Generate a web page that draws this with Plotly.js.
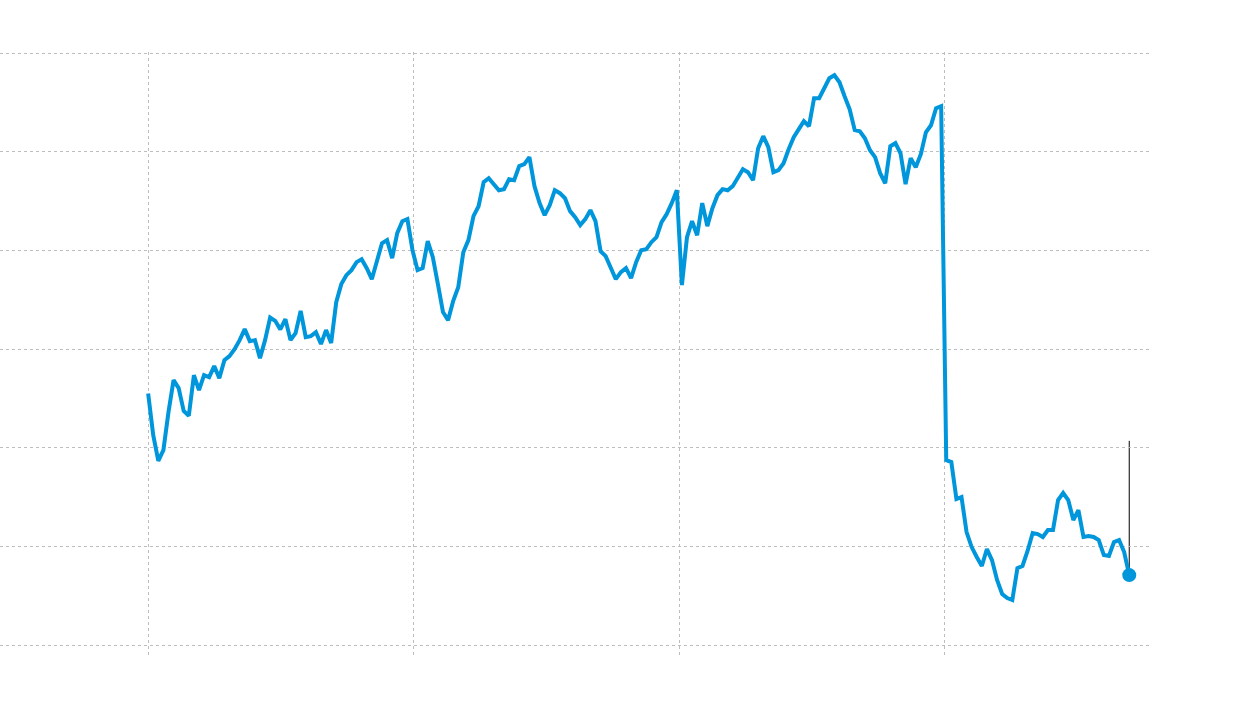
<!DOCTYPE html>
<html>
<head>
<meta charset="utf-8">
<script src="https://cdn.plot.ly/plotly-3.0.1.min.js"></script>
<style>
  html, body { margin: 0; padding: 0; background: #fff; }
  #chart { width: 1240px; height: 706px; }
</style>
</head>
<body>
<div id="chart"></div>
<script>
// Weekly series, first week starting 2019-01-01
const startDate = '2019-01-01';
const stepDays = 7;
const values = [
  25.51, 21.28, 18.68, 19.76, 23.61, 26.86, 26.05, 23.72, 23.24, 27.36,
  25.84, 27.36, 27.16, 28.28, 27.06, 28.88, 29.29, 30.00, 30.91, 32.03,
  30.81, 30.91, 29.09, 30.91, 33.21, 32.87, 32.00, 33.04, 30.91, 31.62,
  33.88, 31.22, 31.32, 31.72, 30.51, 31.93, 30.61, 34.76, 36.59, 37.50,
  38.01, 38.82, 39.12, 38.21, 37.09, 39.12, 40.74, 41.05, 39.22, 41.76,
  42.97, 43.18, 40.03, 38.01, 38.21, 40.95, 39.32, 36.59, 33.75, 32.94,
  34.86, 36.28, 39.83, 41.05, 43.48, 44.49, 46.92, 47.33, 46.72, 46.11,
  46.22, 47.23, 47.13, 48.55, 48.75, 49.46, 46.52, 44.80, 43.58, 44.59,
  46.11, 45.81, 45.30, 43.99, 43.38, 42.57, 43.18, 44.09, 42.97, 39.93,
  39.43, 38.21, 37.09, 37.80, 38.21, 37.20, 38.82, 40.03, 40.13, 40.84,
  41.35, 42.87, 43.68, 44.80, 46.11, 36.49, 41.35, 42.97, 41.55, 44.80,
  42.47, 44.29, 45.61, 46.22, 46.11, 46.52, 47.33, 48.24, 47.94, 47.13,
  50.37, 51.59, 50.47, 47.94, 48.14, 48.85, 50.27, 51.49, 52.30, 53.11,
  52.60, 55.44, 55.44, 56.55, 57.46, 57.77, 57.06, 55.64, 54.32, 52.20,
  52.09, 51.38, 50.17, 49.46, 47.84, 46.82, 50.57, 50.88, 49.86, 46.72,
  49.36, 48.45, 49.76, 51.99, 52.70, 54.43, 54.63, 18.75, 18.55, 14.80,
  15.00, 11.45, 9.93, 8.92, 8.01, 9.73, 8.61, 6.59, 5.17, 4.76,
  4.56, 7.80, 8.01, 9.53, 11.35, 11.25, 10.95, 11.66, 11.66, 14.70,
  15.41, 14.70, 12.67, 13.68, 10.95, 11.05, 10.95, 10.64, 9.12, 9.02,
  10.44, 10.64, 9.43, 7.09
];
const markerTop = 20.7;   // top of the black marker line at the last point
const yTicks = [0, 10, 20, 30, 40, 50, 60];

function addDays(iso, n) {
  const d = new Date(iso + 'T00:00:00Z');
  d.setUTCDate(d.getUTCDate() + n);
  return d.toISOString().slice(0, 10);
}
const dates = values.map((_, i) => addDays(startDate, i * stepDays));
const lastDate = dates[dates.length - 1];
const lastVal = values[values.length - 1];

const blue = '#0096db';
const gridColor = '#bdbdbd';

const traces = [
  {
    x: dates, y: values, type: 'scatter', mode: 'lines',
    line: { color: blue, width: 4 }, hoverinfo: 'skip'
  },
  {
    x: [lastDate], y: [lastVal], type: 'scatter', mode: 'markers',
    marker: { color: blue, size: 14 }, hoverinfo: 'skip'
  }
];

const layout = {
  width: 1240, height: 706,
  margin: { l: 0, r: 90, t: 52, b: 50 },
  paper_bgcolor: '#ffffff', plot_bgcolor: '#ffffff',
  showlegend: false,
  xaxis: {
    type: 'date',
    range: ['2018-06-11', '2022-10-11 14:00'],
    tick0: '2019-01-01', dtick: 'M12',
    showticklabels: false, ticks: '',
    showgrid: true, gridcolor: gridColor, griddash: 'dot', gridwidth: 1,
    zeroline: false, showline: false
  },
  yaxis: {
    range: [-1.115, 60.125],
    tickvals: yTicks,
    showticklabels: false, ticks: '',
    showgrid: true, gridcolor: gridColor, griddash: 'dot', gridwidth: 1,
    zeroline: false, showline: false
  },
  shapes: [
    {
      type: 'line', xref: 'x', yref: 'y',
      x0: lastDate, x1: lastDate, y0: lastVal, y1: markerTop,
      line: { color: '#000000', width: 1 }, layer: 'below'
    }
  ]
};

Plotly.newPlot('chart', traces, layout, { displayModeBar: false, staticPlot: true });
</script>
</body>
</html>
